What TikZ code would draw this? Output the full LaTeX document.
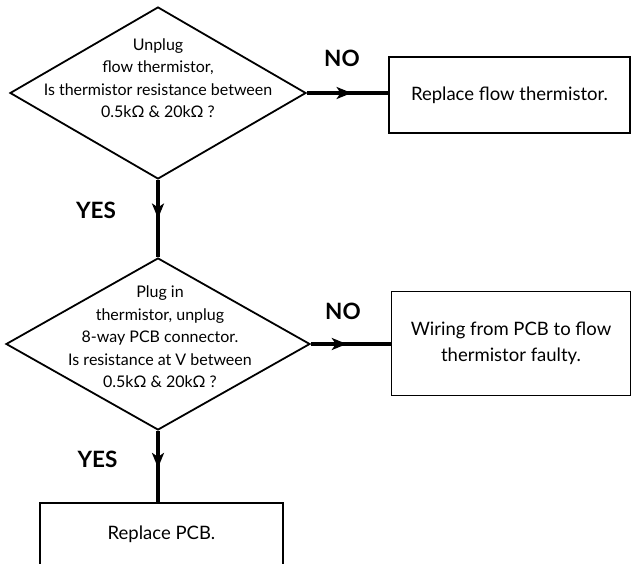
\documentclass[tikz,border=0pt]{standalone}
\usepackage{fontspec}
\setmainfont{Lato}
\usetikzlibrary{shapes.geometric,arrows.meta,decorations.markings}

\begin{document}
\begin{tikzpicture}[x=1pt, y=-1pt, font=\fontsize{16}{22.5}\selectfont,
    decision/.style={draw, diamond, line width=1.8pt, inner sep=0pt, minimum width=#1, minimum height=172pt},
    question/.style={align=center, inner sep=0pt},
    outcome/.style={draw, rectangle, line width=1.8pt, align=center, inner sep=0pt, font=\fontsize{18.5}{26}\selectfont},
    answer/.style={inner sep=0pt, font=\fontsize{22.5}{26}\selectfont\bfseries},
    link/.style={line width=4pt, postaction={decorate},
      decoration={markings, mark=at position #1 with {\arrow{Stealth[length=15pt, width=12pt, inset=4pt]}}}}]
  \useasboundingbox (0,0) rectangle (632,564);

  % questions
  \node[decision=296pt] (q1) at (158,93) {};
  \node[question] (q1t) at (158,78) {Unplug\\flow thermistor,\\Is thermistor resistance between\\0.5kΩ \& 20kΩ ?};
  \node[decision=304pt] (q2) at (158,344) {};
  \node[question] (q2t) at (160,337) {Plug in\\thermistor, unplug\\8-way PCB connector.\\Is resistance at V between\\0.5kΩ \& 20kΩ ?};

  % outcomes
  \node[outcome, minimum width=241pt, minimum height=76pt] (r1) at (509.5,95) {Replace flow thermistor.};
  \node[outcome, minimum width=239pt, minimum height=104pt] (r2) at (511,343.5) {Wiring from PCB to flow\\thermistor faulty.};
  \node[outcome, minimum width=243pt, minimum height=63pt] (r3) at (161.5,534.5) {Replace PCB.};

  % answers
  \node[answer] (no1) at (342,58.5) {NO};
  \node[answer] (yes1) at (96,210.5) {YES};
  \node[answer] (no2) at (343,311) {NO};
  \node[answer] (yes2) at (97.5,459.5) {YES};

  % links
  \draw[link=0.55] (q1.east) -- (q1.east -| r1.west);
  \draw[link=0.5] (q1.south) -- (q2.north);
  \draw[link=0.45] (q2.east) -- (q2.east -| r2.west);
  \draw[link=0.52] (q2.south) -- (q2.south |- r3.north);
\end{tikzpicture}
\end{document}
